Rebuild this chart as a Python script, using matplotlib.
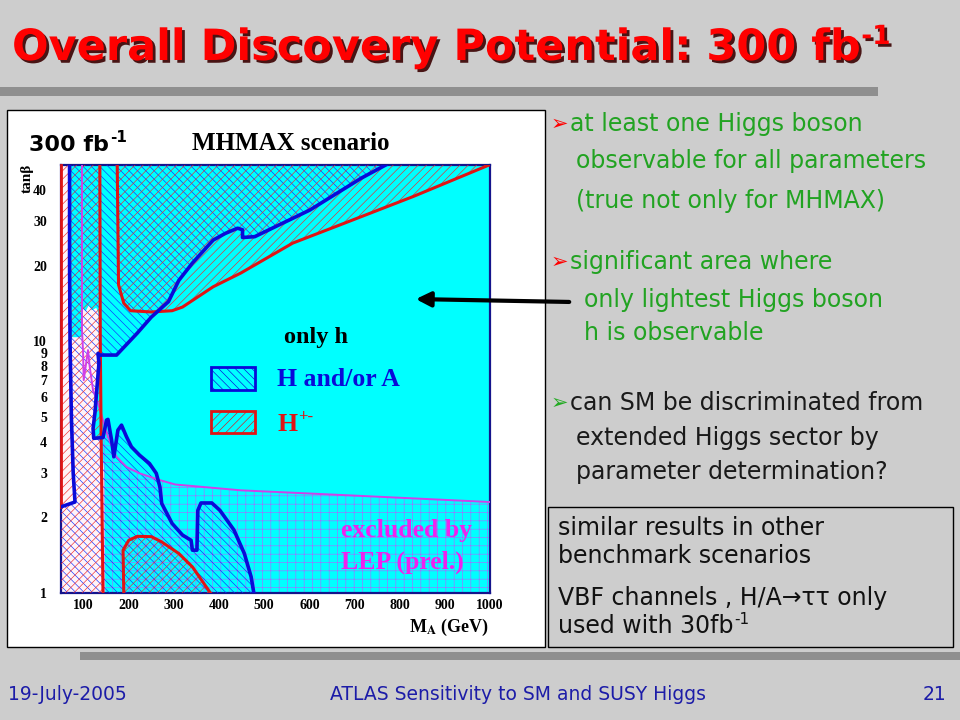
import matplotlib
matplotlib.use("Agg")
import matplotlib.pyplot as plt
import matplotlib.patheffects as pe
from matplotlib.patches import Polygon, Rectangle
from matplotlib.ticker import NullLocator

plt.rcParams["hatch.linewidth"] = 0.45
plt.rcParams["mathtext.fontset"] = "stix"

# ---- plot range (M_A in GeV, tan beta) ----
X_MIN, X_MAX = 50, 1000
Y_MIN, Y_MAX = 1, 50.3
x_ticks = [100, 200, 300, 400, 500, 600, 700, 800, 900, 1000]
y_ticks = [1, 2, 3, 4, 5, 6, 7, 8, 9, 10, 20, 30, 40]

# ---- contours ----
# left blue boundary of the H/A region (top -> bottom-left)
blue_left_x = [69, 69, 70, 73, 77, 81, 50]
blue_left_y = [50.3, 20, 10, 5, 3, 2.3, 2.2]
# main blue boundary (top -> bottom)
blue_main_x = [769, 715, 601, 479, 452, 452, 441, 414, 387, 341, 311, 288, 250, 219,
               173, 135, 132, 134, 128, 125, 121, 122.5, 143, 151, 154, 162, 167, 176,
               184, 195, 206, 224, 246, 261, 269, 273, 296, 319, 338, 341, 351, 353,
               360, 384, 402, 433, 456, 471, 477]
blue_main_y = [50.3, 44.6, 33.3, 26.1, 25.9, 27.8, 28.2, 26.9, 25.3, 20.5, 17.5, 14.4,
               12.5, 10.8, 8.83, 8.83, 8.97, 8.18, 6.03, 5.17, 4.51, 4.12, 4.15, 4.87,
               4.9, 4.05, 3.48, 4.44, 4.65, 4.18, 3.81, 3.53, 3.27, 2.99, 2.64, 2.27,
               1.89, 1.70, 1.62, 1.48, 1.48, 2.13, 2.28, 2.28, 2.13, 1.78, 1.435, 1.16, 1.0]

# charged Higgs regions
red_cut_x = [136, 137, 139, 143]
red_cut_y = [50.3, 10, 4, 1]
red_u_x = [174.5, 177.4, 189, 204, 250, 296, 319, 387, 448, 563, 677, 830, 998]
red_u_y = [50.3, 16.8, 14.2, 13.25, 13.1, 13.25, 13.7, 16.5, 18.7, 24.6, 29.5, 37.7, 50.3]
red_low_x = [189, 187.4, 200, 219, 250, 273, 311, 341, 381]
red_low_y = [1.0, 1.48, 1.62, 1.68, 1.675, 1.596, 1.435, 1.27, 1.0]

# LEP exclusion line
lep_x = [96.5, 96.5, 98.7, 100.3, 109.8, 113.6, 120.9, 132, 143, 154, 172.8, 195, 224,
         269, 303, 448, 677, 1000]
lep_y = [50.3, 11.1, 9.24, 7.02, 9.24, 7.93, 6.41, 5.67, 4.87, 4.18, 3.48, 3.17, 2.99,
         2.81, 2.70, 2.56, 2.45, 2.30]

# area where h is not observable (white)
white_x = [50, 50, 69, 70, 96, 97, 105, 112, 118, 128, 133, 134, 128, 125, 121, 122.5,
           139, 146, 148]
white_y = [1, 50.3, 50.3, 10.4, 10.4, 13.6, 13.2, 14, 13.3, 13.6, 13, 8.2, 6.0, 5.2,
           4.5, 4.1, 4.1, 3.0, 1]

CYAN = "#00ffff"
BLUE = "#0a0ad8"
RED = "#e01414"
MAG = "#d040e8"
GREEN = "#22a322"
BG = "#cdcdcd"

fig = plt.figure(figsize=(9.6, 7.2), dpi=100)

# slide background
bg = fig.add_axes([0, 0, 1, 1], zorder=0)
bg.set_xlim(0, 960)
bg.set_ylim(720, 0)
bg.axis("off")
bg.add_patch(Rectangle((0, 0), 960, 720, fc=BG, ec="none"))
bg.add_patch(Rectangle((0, 87), 878, 9, fc="#8f8f8f", ec="none"))
bg.add_patch(Rectangle((80, 652), 880, 8, fc="#8f8f8f", ec="none"))
bg.add_patch(Rectangle((7, 110), 538, 537, fc="white", ec="black", lw=1))
bg.add_patch(Rectangle((548, 507), 405, 140, fc=BG, ec="black", lw=1))

# physics plot
ax = fig.add_axes([61 / 960, 127 / 720, 429 / 960, 428 / 720], zorder=2)
ax.set_facecolor(CYAN)
ax.set_yscale("log")
ax.set_xlim(X_MIN, X_MAX)
ax.set_ylim(Y_MIN, Y_MAX)

ax.add_patch(Polygon(list(zip(white_x, white_y)), fc="#fff3f8", ec="none", zorder=1))

lep_grid = [(143, 1)] + [(x, y) for x, y in zip(lep_x, lep_y) if x >= 143] + [(1000, 1)]
ax.add_patch(Polygon(lep_grid, fc="none", ec="#a070ff", hatch="++", lw=0, zorder=2))

BLUE_HATCH = "\\" * 4
RED_HATCH = "/" * 4
blue_poly = list(zip(blue_left_x, blue_left_y)) + [(50, 1)] + \
    list(zip(blue_main_x[::-1], blue_main_y[::-1]))
ax.add_patch(Polygon(blue_poly, fc="none", ec="#1030ff", hatch=BLUE_HATCH, lw=0, zorder=3))

red_left_poly = [(50, 1), (50, 50.3)] + list(zip(red_cut_x, red_cut_y))
for poly in (red_left_poly, list(zip(red_u_x, red_u_y)), list(zip(red_low_x, red_low_y))):
    ax.add_patch(Polygon(poly, fc="none", ec="#f02a2a", hatch=RED_HATCH, lw=0, zorder=3))

ax.plot(lep_x, lep_y, color=MAG, lw=1.4, zorder=5)
ax.plot(red_cut_x, red_cut_y, color=RED, lw=2.2, zorder=6)
ax.plot(red_u_x, red_u_y, color=RED, lw=2.2, zorder=6)
ax.plot(red_low_x, red_low_y, color=RED, lw=2.2, zorder=6)
ax.plot([50.6, 50.6], [2.2, 50.3], color=RED, lw=2, zorder=6, clip_on=False)
ax.plot(blue_left_x, blue_left_y, color=BLUE, lw=2.6, zorder=7)
ax.plot(blue_main_x, blue_main_y, color=BLUE, lw=2.6, zorder=7)

for s in ax.spines.values():
    s.set_color("#14148c")
    s.set_linewidth(1.6)

ax.yaxis.set_minor_locator(NullLocator())
ax.set_yticks(y_ticks)
ax.set_yticklabels([str(v) for v in y_ticks])
ax.set_xticks(x_ticks)
ax.set_xticklabels([str(v) for v in x_ticks])
ax.tick_params(length=0)
ax.tick_params(axis="y", pad=10)
ax.tick_params(axis="x", pad=4)
for lab in ax.get_xticklabels() + ax.get_yticklabels():
    lab.set_fontfamily("Liberation Serif")
    lab.set_fontweight("bold")
    lab.set_fontsize(10)

# overlay in pixel coordinates
ov = fig.add_axes([0, 0, 1, 1], zorder=5)
ov.set_xlim(0, 960)
ov.set_ylim(720, 0)
ov.axis("off")
ov.patch.set_alpha(0)

renderer = fig.canvas.get_renderer()


def sup_text(x, y, base, sup, size, sup_size, rise, **kw):
    t = ov.text(x, y, base, fontsize=size, va="baseline", **kw)
    bb = t.get_window_extent(renderer=renderer)
    x1 = ov.transData.inverted().transform((bb.x1, bb.y0))[0]
    ov.text(x1 + 1, y - rise, sup, fontsize=sup_size, va="baseline", **kw)


serif = dict(fontfamily="Liberation Serif", fontweight="bold")

# title
shadow = [pe.withSimplePatchShadow(offset=(2, -2), shadow_rgbFace="#3a0000", alpha=0.9)]
sup_text(12, 60, "Overall Discovery Potential: 300 fb", "-1", 31, 19, 16,
         color="#ff0000", fontweight="bold", fontfamily="DejaVu Sans", path_effects=shadow)

# panel labels
sup_text(29, 151, "300 fb", "-1", 16, 11, 9, color="black", fontweight="bold",
         fontfamily="DejaVu Sans")
ov.text(291, 143, "MHMAX scenario", fontsize=18, ha="center", va="center", **serif)
ov.text(27, 178, "tanβ", fontsize=11, rotation=90, ha="center", va="center", **serif)
ov.text(489, 627, r"M$_{\mathbf{A}}$ (GeV)", fontsize=13, ha="right", va="center", **serif)
ov.text(316, 338, "only h", fontsize=17.5, ha="center", va="center", **serif)
ov.add_patch(Rectangle((211, 367), 44, 23, fc=CYAN, ec=BLUE, hatch=BLUE_HATCH, lw=2))
ov.add_patch(Rectangle((211, 411), 44, 22, fc=CYAN, ec=RED, hatch=RED_HATCH, lw=2))
ov.text(277, 379, "H and/or A", fontsize=18.5, color=BLUE, va="center", **serif)
sup_text(277, 431, "H", "+-", 18.5, 12, 10, color=RED, **serif)
ov.text(341, 531, "excluded by", fontsize=18.5, color="#ee22ee", va="center", **serif)
ov.text(341, 562, "LEP (prel.)", fontsize=18.5, color="#ee22ee", va="center", **serif)

ov.annotate("", xy=(413, 299), xytext=(572, 302),
            arrowprops=dict(arrowstyle="-|>", lw=3, color="black", mutation_scale=22))

# bullet text
sans = dict(fontfamily="DejaVu Sans", va="center")
lines = [
    (570, 124, "at least one Higgs boson", GREEN),
    (576, 161, "observable for all parameters", GREEN),
    (576, 201, "(true not only for MHMAX)", GREEN),
    (570, 262, "significant area where", GREEN),
    (584, 300, "only lightest Higgs boson", GREEN),
    (584, 333, "h is observable", GREEN),
    (570, 403, "can SM be discriminated from", "#1a1a1a"),
    (576, 438, "extended Higgs sector by", "#1a1a1a"),
    (576, 472, "parameter determination?", "#1a1a1a"),
]
for x, y, s, c in lines:
    ov.text(x, y, s, fontsize=17, color=c, **sans)
for y, c in ((124, "#ff0000"), (262, "#ff0000"), (403, "#22aa22")):
    ov.text(551, y, "➢", fontsize=15, color=c, **sans)

ov.text(558, 528, "similar results in other", fontsize=17, color="#111111", **sans)
ov.text(558, 556, "benchmark scenarios", fontsize=17, color="#111111", **sans)
ov.text(558, 598, "VBF channels , H/A→ττ only", fontsize=17, color="#111111", **sans)
sup_text(558, 633, "used with 30fb", "-1", 17, 11, 9, color="#111111",
         fontfamily="DejaVu Sans")

# footer
foot = dict(fontfamily="DejaVu Sans", color="#1c1ca8", fontsize=13.5, va="center")
ov.text(8, 695, "19-July-2005", **foot)
ov.text(518, 695, "ATLAS Sensitivity to SM and SUSY Higgs", ha="center", **foot)
ov.text(935, 695, "21", ha="center", **foot)

fig.savefig("out.png", dpi=100)
